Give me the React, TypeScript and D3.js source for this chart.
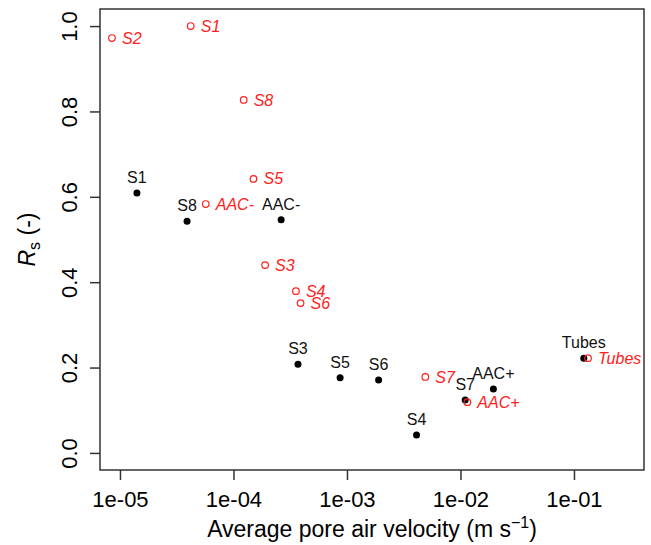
import * as d3 from 'd3';
import React, {useRef, useEffect} from 'react';

// black: measured (filled dots)
const blackNames = ["S1", "S8", "AAC-", "S3", "S5", "S6", "S4", "S7", "AAC+", "Tubes"];
const blackVel = [1.41e-5, 3.9e-5, 2.63e-4, 3.7e-4, 8.7e-4, 1.9e-3, 4.1e-3, 1.1e-2, 1.95e-2, 1.22e-1];
const blackRs = [0.609, 0.543, 0.546, 0.208, 0.176, 0.171, 0.042, 0.124, 0.150, 0.222];

// red: open circles
const redNames = ["S2", "S1", "S8", "S5", "AAC-", "S3", "S4", "S6", "S7", "AAC+", "Tubes"];
const redVel = [8.5e-6, 4.2e-5, 1.23e-4, 1.5e-4, 5.7e-5, 1.9e-4, 3.55e-4, 3.9e-4, 4.9e-3, 1.15e-2, 1.33e-1];
const redRs = [0.972, 1.0, 0.827, 0.642, 0.583, 0.440, 0.379, 0.351, 0.178, 0.119, 0.222];

const xTicks = [1e-5, 1e-4, 1e-3, 1e-2, 1e-1];
const xTickLabels = ["1e-05", "1e-04", "1e-03", "1e-02", "1e-01"];
const yTicks = [0, 0.2, 0.4, 0.6, 0.8, 1.0];

const font = "'Liberation Sans', Arial, sans-serif";

function Chart() {
    const ref = useRef(null);

    useEffect(() => {
        const width = 651, height = 545;
        const margin = {top: 9, right: 7, bottom: 75, left: 100};
        const svg = d3.select(ref.current)
            .attr("width", width)
            .attr("height", height);
        svg.selectAll("*").remove();

        const x = d3.scaleLog()
            .domain([Math.pow(10, -5.176), Math.pow(10, -0.383)])
            .range([margin.left, width - margin.right]);
        const y = d3.scaleLinear()
            .domain([-0.04, 1.04])
            .range([height - margin.bottom, margin.top]);

        // box
        svg.append("rect")
            .attr("x", margin.left)
            .attr("y", margin.top)
            .attr("width", width - margin.right - margin.left)
            .attr("height", height - margin.bottom - margin.top)
            .attr("fill", "none")
            .attr("stroke", "#333")
            .attr("stroke-width", 1.5);

        // x axis
        const gx = svg.append("g")
            .attr("transform", `translate(0, ${height - margin.bottom})`)
            .call(d3.axisBottom(x)
                .tickValues(xTicks)
                .tickFormat((d, i) => xTickLabels[i])
                .tickSize(10)
                .tickPadding(8));
        gx.select(".domain").remove();
        gx.selectAll("line").attr("stroke", "#333").attr("stroke-width", 1.5);
        gx.selectAll("text")
            .attr("font-family", font)
            .attr("font-size", 22)
            .attr("fill", "#000")
            .attr("y", 37)
            .attr("dy", 0);

        // y axis
        const gy = svg.append("g")
            .attr("transform", `translate(${margin.left}, 0)`)
            .call(d3.axisLeft(y)
                .tickValues(yTicks)
                .tickFormat(d3.format(".1f"))
                .tickSize(10));
        gy.select(".domain").remove();
        gy.selectAll("line").attr("stroke", "#333").attr("stroke-width", 1.5);
        gy.selectAll("text")
            .attr("font-family", font)
            .attr("font-size", 22)
            .attr("fill", "#000")
            .attr("x", null)
            .attr("dy", null)
            .attr("text-anchor", "middle")
            .attr("transform", "translate(-23, 0) rotate(-90)");

        // titles
        const xt = svg.append("text")
            .attr("x", (margin.left + width - margin.right) / 2)
            .attr("y", 537)
            .attr("text-anchor", "middle")
            .attr("font-family", font)
            .attr("font-size", 23);
        xt.append("tspan").text("Average pore air velocity (m s");
        xt.append("tspan").attr("font-size", 16).attr("dy", -9).text("\u22121");
        xt.append("tspan").attr("dy", 9).text(")");

        const yt = svg.append("text")
            .attr("transform", `translate(35, ${(margin.top + height - margin.bottom) / 2}) rotate(-90)`)
            .attr("text-anchor", "middle")
            .attr("font-family", font)
            .attr("font-size", 23);
        yt.append("tspan").attr("font-style", "italic").text("R");
        yt.append("tspan").attr("font-size", 16).attr("dy", 5).text("s");
        yt.append("tspan").attr("dy", -5).text(" (-)");

        // black points
        const black = blackNames.map((n, i) => ({n, v: blackVel[i], r: blackRs[i]}));
        svg.selectAll(".bdot").data(black).enter().append("circle")
            .attr("cx", d => x(d.v))
            .attr("cy", d => y(d.r))
            .attr("r", 3.5)
            .attr("fill", "#000");
        svg.selectAll(".blab").data(black).enter().append("text")
            .attr("x", d => x(d.v))
            .attr("y", d => y(d.r) - 10)
            .attr("text-anchor", "middle")
            .attr("font-family", font)
            .attr("font-size", 16)
            .attr("fill", "#111")
            .text(d => d.n);

        // red points
        const red = redNames.map((n, i) => ({n, v: redVel[i], r: redRs[i]}));
        svg.selectAll(".rdot").data(red).enter().append("circle")
            .attr("cx", d => x(d.v))
            .attr("cy", d => y(d.r))
            .attr("r", 3.3)
            .attr("fill", "none")
            .attr("stroke", "#ff2020")
            .attr("stroke-width", 1.2);
        svg.selectAll(".rlab").data(red).enter().append("text")
            .attr("x", d => x(d.v) + 10)
            .attr("y", d => y(d.r))
            .attr("dy", "0.35em")
            .attr("font-family", font)
            .attr("font-size", 16)
            .attr("font-style", "italic")
            .attr("fill", "#ff2020")
            .text(d => d.n);
    }, []);

    return (
        <svg ref={ref} style={{position: "absolute", left: 0, top: 0}}></svg>
    );
}

export default function App() {
    return <Chart />;
}
